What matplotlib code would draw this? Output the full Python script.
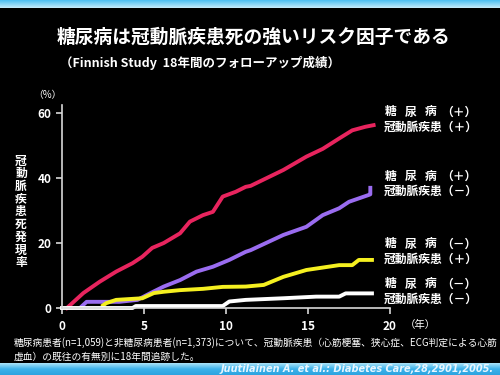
import numpy as np
import matplotlib
matplotlib.use("Agg")
import matplotlib.pyplot as plt

plt.rcParams['font.family'] = ['Noto Sans CJK JP', 'DejaVu Sans']

# Cumulative CHD mortality (%) by follow-up years
t_dm_chd = [0.3, 1.3, 2.3, 3.3, 4.3, 4.9, 5.5, 6.2, 7.2, 7.8, 8.6, 9.2, 9.8,
            10.6, 11.2, 11.5, 13.5, 14.9, 15.9, 16.9, 17.7, 18.5, 19.0]
v_dm_chd = [0.0, 4.6, 8.1, 11.2, 13.8, 15.8, 18.5, 20.0, 23.0, 26.6, 28.6, 29.6, 34.3,
            35.8, 37.3, 37.6, 42.5, 46.6, 49.0, 52.2, 54.7, 55.8, 56.3]

t_dm_nochd = [1.2, 1.5, 2.5, 3.5, 4.6, 5.4, 6.2, 7.2, 8.2, 9.2, 10.2, 11.2,
              11.5, 13.5, 14.9, 15.9, 16.9, 17.5, 18.7, 18.8, 18.8]
v_dm_nochd = [0.5, 1.9, 1.9, 1.9, 2.5, 4.6, 6.6, 8.6, 11.2, 12.7, 14.8, 17.3,
              17.8, 22.5, 25.0, 28.6, 30.7, 32.7, 34.8, 35.0, 37.0]

t_nodm_chd = [2.5, 2.7, 3.3, 4.9, 5.6, 6.2, 7.2, 8.6, 9.8, 11.2, 12.3, 13.5,
              14.9, 16.9, 17.7, 18.1, 18.9]
v_nodm_chd = [0.8, 1.5, 2.5, 3.0, 4.6, 5.0, 5.5, 5.9, 6.5, 6.6, 7.1, 9.6,
              11.7, 13.2, 13.2, 14.8, 14.8]

t_nodm_nochd = [0.0, 4.3, 4.5, 9.8, 10.2, 11.2, 13.5, 15.5, 16.9, 17.3, 18.9]
v_nodm_nochd = [0.0, 0.0, 0.6, 0.6, 2.0, 2.5, 3.0, 3.5, 3.5, 4.5, 4.5]

series = [
    (t_dm_chd, v_dm_chd, '#e8245e', '＋', '＋'),
    (t_dm_nochd, v_dm_nochd, '#9a6cf0', '＋', '－'),
    (t_nodm_chd, v_nodm_chd, '#f5f020', '－', '＋'),
    (t_nodm_nochd, v_nodm_nochd, '#ffffff', '－', '－'),
]
label_y = [112, 176, 244, 284]  # pixel rows of the first line of each label

W, H = 500, 375
fig = plt.figure(figsize=(5, 3.75), dpi=100, facecolor='black')

# top and bottom blue bands
top = fig.add_axes([0, 1 - 8 / H, 1, 8 / H])
top.imshow(np.linspace(0, 1, 20).reshape(-1, 1), aspect='auto',
           cmap=matplotlib.colors.LinearSegmentedColormap.from_list('t', ['#4cc0f2', '#c4ecfb']))
top.axis('off')
bot = fig.add_axes([0, 0, 1, 12 / H])
bot.imshow(np.linspace(0, 1, 20).reshape(-1, 1), aspect='auto',
           cmap=matplotlib.colors.LinearSegmentedColormap.from_list('b', ['#a8e2f8', '#3cb2ea', '#2ea4e0']))
bot.axis('off')

ax = fig.add_axes([62 / W, 1 - 308 / H, 328 / W, 203 / H])
ax.set_facecolor('black')
for t, v, c, s1, s2 in series:
    ax.plot(t, v, color=c, lw=2.8, solid_joinstyle='round', clip_on=False)

ax.set_xlim(0, 20)
ax.set_ylim(0, 62.5)
ax.set_xticks([0, 5, 10, 15, 20])
ax.set_yticks([0, 20, 40, 60])
for s in ['top', 'right']:
    ax.spines[s].set_visible(False)
for s in ['left', 'bottom']:
    ax.spines[s].set_color('#d8d8d8')
    ax.spines[s].set_linewidth(1.2)
ax.tick_params(colors='#d8d8d8', labelcolor='white', labelsize=8.5, length=4,
               width=1.2, direction='out')
ax.tick_params(axis='x', pad=5)
for lb in ax.get_xticklabels() + ax.get_yticklabels():
    lb.set_fontweight('bold')

def px(x, y):
    return x / W, 1 - y / H

fig.text(*px(253, 37), '糖尿病は冠動脈疾患死の強いリスク因子である', color='white',
         fontsize=13.5, fontweight='bold', ha='center', va='center')
fig.text(*px(60, 63), '（Finnish Study  18年間のフォローアップ成績）', color='white',
         fontsize=9, fontweight='bold', ha='left', va='center')
fig.text(*px(47, 95), '（%）', color='white', fontsize=7, ha='center', va='center')
ylab = '冠動脈疾患死発現率'
for i, ch in enumerate(ylab):
    fig.text(*px(21, 161 + i * 12.7), ch, color='white', fontsize=8.5,
             fontweight='bold', ha='center', va='center')
fig.text(*px(420, 325), '（年）', color='white', fontsize=7.5, ha='center', va='center')

for (t, v, c, s1, s2), y in zip(series, label_y):
    for ch, x in zip('糖尿病', [385, 405, 425]):
        fig.text(*px(x, y), ch, color='white', fontsize=8.5, fontweight='bold',
                 ha='left', va='center')
    fig.text(*px(441, y), '（' + s1 + '）', color='white', fontsize=8.5,
             fontweight='bold', ha='left', va='center')
    fig.text(*px(384, y + 15), '冠動脈疾患（' + s2 + '）', color='white', fontsize=8.5,
             fontweight='bold', ha='left', va='center')

fig.text(*px(14, 343), '糖尿病患者(n=1,059)と非糖尿病患者(n=1,373)について、冠動脈疾患（心筋梗塞、狭心症、ECG判定による心筋',
         color='white', fontsize=7, ha='left', va='center')
fig.text(*px(14, 357), '虚血）の既往の有無別に18年間追跡した。',
         color='white', fontsize=7, ha='left', va='center')
fig.text(*px(494, 369), 'Juutilainen A. et al.: Diabetes Care,28,2901,2005.',
         color='#e8f6ff', fontsize=7, fontstyle='italic', fontweight='bold',
         family='DejaVu Sans', ha='right', va='center')

fig.savefig('out.png', dpi=100, facecolor='black')
